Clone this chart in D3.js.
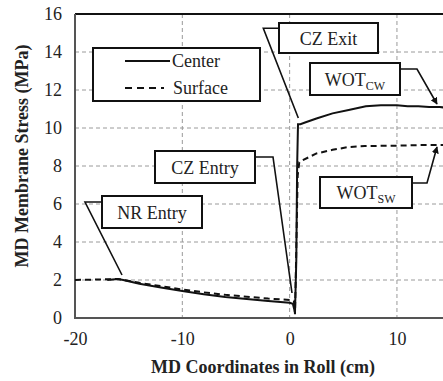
<!DOCTYPE html>
<html><head><meta charset="utf-8">
<script src="https://cdn.jsdelivr.net/npm/d3@7"></script>
<style>body{margin:0;background:#fff}</style>
</head><body><svg id="c" width="443" height="381" font-family="Times New Roman"></svg>
<script>
const xTicks = [-20, -10, 0, 10];
const yTicks = [0, 2, 4, 6, 8, 10, 12, 14, 16];
const centerX = [-17, -16, -15.5, -14, -12, -10, -8, -6, -4, -2, 0, 0.3, 0.5, 0.62, 0.7, 0.78, 1, 1.5, 2.5, 4, 5.5, 7.1, 8.5, 10, 11, 12, 13, 14, 15];
const centerY = [2.0, 2.05, 2.0, 1.8, 1.6, 1.42, 1.25, 1.1, 1.0, 0.9, 0.8, 0.75, 0.3, 3.0, 8.0, 10.2, 10.2, 10.3, 10.5, 10.77, 10.95, 11.15, 11.2, 11.2, 11.15, 11.15, 11.1, 11.1, 11.05];
const surfaceX = [-20, -16, -15.5, -14, -12, -10, -8, -6, -4, -2, 0, 0.4, 0.5, 0.6, 0.75, 0.9, 1.2, 2.5, 4, 5.5, 7, 10, 12, 14, 15];
const surfaceY = [2.0, 2.05, 2.0, 1.85, 1.68, 1.5, 1.35, 1.22, 1.12, 1.02, 0.95, 0.9, 0.2, 3.0, 7.5, 8.2, 8.3, 8.66, 8.85, 9.0, 9.05, 9.07, 9.1, 9.1, 9.1];
const seriesNames = ["Center", "Surface"];
const labels = ["CZ Exit", "CZ Entry", "NR Entry"];

const FF = "Times New Roman";
const svg = d3.select("#c");
const L = 75, R = 450.6, T = 14, B = 318;
const x = d3.scaleLinear().domain([-20, 15]).range([L, R]);
const y = d3.scaleLinear().domain([0, 16]).range([B, T]);

function txt(sel, size) {
  return sel.attr("font-family", FF).attr("font-size", size).attr("fill", "#222");
}

// grid
svg.append("g").selectAll("line").data(yTicks.filter(d => d > 0 && d < 16)).join("line")
  .attr("x1", L).attr("x2", 443).attr("y1", d => y(d)).attr("y2", d => y(d))
  .attr("stroke", "#9a9a9a").attr("stroke-width", 1).attr("stroke-dasharray", "4,3");
svg.append("g").selectAll("line").data(xTicks.filter(d => d > -20)).join("line")
  .attr("x1", d => x(d)).attr("x2", d => x(d)).attr("y1", T).attr("y2", B)
  .attr("stroke", "#9a9a9a").attr("stroke-width", 1).attr("stroke-dasharray", "4,3");

// frame
svg.append("line").attr("x1", L).attr("x2", 443).attr("y1", T).attr("y2", T).attr("stroke", "#111").attr("stroke-width", 2);
svg.append("line").attr("x1", L).attr("x2", L).attr("y1", T).attr("y2", B).attr("stroke", "#555").attr("stroke-width", 2);
svg.append("line").attr("x1", L - 1).attr("x2", 443).attr("y1", B).attr("y2", B).attr("stroke", "#555").attr("stroke-width", 2);

// axes tick labels via d3 axes
const ya = svg.append("g").attr("transform", `translate(${L},0)`).call(d3.axisLeft(y).tickValues(yTicks).tickFormat(d => String(d)).tickSize(0).tickPadding(13));
ya.select(".domain").remove();
ya.attr("font-family", FF).attr("font-size", 18);
txt(ya.selectAll("text"), 18);
const xa = svg.append("g").attr("transform", `translate(0,${B})`).call(d3.axisBottom(x).tickValues(xTicks).tickFormat(d => String(d)).tickSize(0).tickPadding(14));
xa.select(".domain").remove();
xa.attr("font-family", FF).attr("font-size", 18);
txt(xa.selectAll("text"), 18);

txt(svg.append("text"), 18).attr("x", 263).attr("y", 373).attr("text-anchor", "middle").attr("font-weight", "bold").text("MD Coordinates  in Roll (cm)");
txt(svg.append("text"), 18).attr("transform", "translate(28,156) rotate(-90)").attr("text-anchor", "middle").attr("font-weight", "bold").text("MD Membrane  Stress (MPa)");

// data lines
const line = d3.line().x(d => x(d[0])).y(d => y(d[1]));
const cData = centerX.map((v, i) => [v, centerY[i]]);
const sData = surfaceX.map((v, i) => [v, surfaceY[i]]);
svg.append("path").attr("d", line(sData)).attr("fill", "none").attr("stroke", "#111").attr("stroke-width", 2).attr("stroke-dasharray", "6,4");
svg.append("path").attr("d", line(cData)).attr("fill", "none").attr("stroke", "#111").attr("stroke-width", 2);

// arrow marker
svg.append("defs").append("marker").attr("id", "ar").attr("viewBox", "0 0 10 10").attr("refX", 9).attr("refY", 5)
  .attr("markerWidth", 7).attr("markerHeight", 7).attr("orient", "auto-start-reverse").attr("markerUnits", "userSpaceOnUse")
  .append("path").attr("d", "M0,0L10,5L0,10z").attr("fill", "#111");

function box(x0, y0, w, h) {
  svg.append("rect").attr("x", x0).attr("y", y0).attr("width", w).attr("height", h).attr("fill", "#fff").attr("stroke", "#111").attr("stroke-width", 2);
}
function poly(pts, arrow) {
  const p = svg.append("path").attr("d", d3.line()(pts)).attr("fill", "none").attr("stroke", "#111").attr("stroke-width", 1.6);
  if (arrow) p.attr("marker-end", "url(#ar)");
}

// legend
box(93, 48, 167, 53);
svg.append("line").attr("x1", 125).attr("x2", 170).attr("y1", 61).attr("y2", 61).attr("stroke", "#111").attr("stroke-width", 2);
svg.append("line").attr("x1", 125).attr("x2", 164).attr("y1", 88).attr("y2", 88).attr("stroke", "#111").attr("stroke-width", 2).attr("stroke-dasharray", "7,5");
txt(svg.append("text"), 18).attr("x", 172).attr("y", 67).text(seriesNames[0]);
txt(svg.append("text"), 18).attr("x", 173).attr("y", 94).text(seriesNames[1]);

// CZ Exit
poly([[279, 28.3], [263.3, 28.3], [298.3, 118]]);
box(279, 23, 99, 30);
txt(svg.append("text"), 18).attr("x", 328.5).attr("y", 45).attr("text-anchor", "middle").text(labels[0]);

// WOT CW
poly([[400, 69], [417, 69], [437, 104]], true);
box(310, 63, 90, 32);
const t1 = txt(svg.append("text"), 18).attr("x", 355).attr("y", 86).attr("text-anchor", "middle");
t1.append("tspan").text("WOT");
t1.append("tspan").attr("font-size", 12).attr("dy", 4).text("CW");

// WOT SW
poly([[412, 183], [427, 183], [437, 147]], true);
box(320, 177, 92, 31);
const t2 = txt(svg.append("text"), 18).attr("x", 366).attr("y", 199).attr("text-anchor", "middle");
t2.append("tspan").text("WOT");
t2.append("tspan").attr("font-size", 12).attr("dy", 4).text("SW");

// CZ Entry
poly([[255, 157], [273, 157], [292, 293]]);
box(155, 151, 100, 32);
txt(svg.append("text"), 18).attr("x", 205).attr("y", 174).attr("text-anchor", "middle").text(labels[1]);

// NR Entry
poly([[102, 202], [85, 202], [122, 275]]);
box(102, 196, 100, 32);
txt(svg.append("text"), 18).attr("x", 152).attr("y", 219).attr("text-anchor", "middle").text(labels[2]);
</script></body></html>
